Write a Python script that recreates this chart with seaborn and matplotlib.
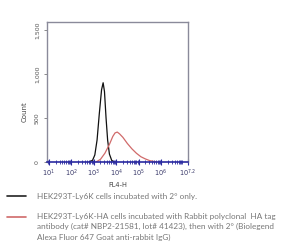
import matplotlib
matplotlib.use("Agg")
import matplotlib.pyplot as plt
import seaborn as sns
import pandas as pd
import numpy as np

sns.set_style("white")
plt.rcParams['font.family'] = ['DejaVu Sans']

# Values (x in log10 decades of FL4-H, y = count)
ctrl_x = [2.80, 2.95, 3.05, 3.15, 3.25, 3.35, 3.42, 3.48, 3.55, 3.62, 3.70, 3.80, 3.90]
ctrl_y = [0, 20, 80, 250, 550, 820, 900, 800, 500, 250, 90, 20, 0]
ha_x = [3.10, 3.30, 3.50, 3.70, 3.85, 3.95, 4.05, 4.15, 4.30, 4.50, 4.70, 4.90, 5.10, 5.30, 5.50, 5.80]
ha_y = [0, 30, 100, 200, 290, 330, 340, 320, 280, 210, 150, 100, 60, 35, 15, 0]

x_ticks = [1, 2, 3, 4, 5, 6, 7.2]
x_labels = ["$10^{1}$", "$10^{2}$", "$10^{3}$", "$10^{4}$", "$10^{5}$", "$10^{6}$", "$10^{7.2}$"]
y_ticks = [0, 500, 1000, 1500]
y_labels = ["0", "500", "1,000", "1,500"]

legend_line1 = "HEK293T-Ly6K cells incubated with 2\u00b0 only."
legend_lines2 = [
    "HEK293T-Ly6K-HA cells incubated with Rabbit polyclonal  HA tag",
    "antibody (cat# NBP2-21581, lot# 41423), then with 2\u00b0 (Biolegend",
    "Alexa Fluor 647 Goat anti-rabbit IgG)",
]

df = pd.concat([
    pd.DataFrame({"x": ctrl_x, "y": ctrl_y, "s": "ctrl"}),
    pd.DataFrame({"x": ha_x, "y": ha_y, "s": "ha"}),
])

fig = plt.figure(figsize=(2.81, 2.43), dpi=100)
ax = fig.add_axes([47/281, 1-162/243, (188-47)/281, (162-22)/243])
pal = {"ctrl": "#111111", "ha": "#d06a6a"}
sns.lineplot(data=df, x="x", y="y", hue="s", palette=pal, ax=ax, legend=False,
             linewidth=0.9, estimator=None, sort=False)

ax.set_xlim(0.92, 7.2)
ax.set_ylim(0, 1590)
ax.set_xticks(x_ticks)
ax.set_xticklabels(x_labels, fontsize=4.8, color="#3a3a6a")
minor = [np.log10(k) + d for d in range(0, 8) for k in range(2, 10)]
minor = [m for m in minor if 0.92 < m < 7.2]
ax.set_xticks(minor, minor=True)
ax.tick_params(axis="x", which="both", bottom=True)
ax.tick_params(axis="y", which="major", left=True)
ax.tick_params(axis="x", which="minor", length=2.5, width=0.6, color="#2a2aa0", direction="inout")
ax.tick_params(axis="x", which="major", length=4, width=0.8, color="#2a2aa0", direction="inout", pad=2)
ax.set_yticks(y_ticks)
ax.set_yticklabels(y_labels, fontsize=4.5, color="#555555", rotation=90, va="center")
ax.tick_params(axis="y", length=2, width=0.6, color="#777777", pad=3)
ax.set_xlabel("FL4-H", fontsize=4.8, color="#444444", labelpad=2)
ax.set_ylabel("Count", fontsize=5, color="#444444")
ax.yaxis.set_label_coords(-0.14, 0.36)
for side in ["left", "right", "top"]:
    ax.spines[side].set_color("#8a8a9a")
    ax.spines[side].set_linewidth(1.0)
ax.spines["bottom"].set_color("#2a2aa0")
ax.spines["bottom"].set_linewidth(1.2)

# legend below
fig.lines.append(plt.Line2D([7/281, 26/281], [1-196/243]*2, color="#222222", lw=1.2, transform=fig.transFigure))
fig.lines.append(plt.Line2D([7/281, 26/281], [1-217/243]*2, color="#d06a6a", lw=1.2, transform=fig.transFigure))
fig.text(37/281, 1-196/243, legend_line1, fontsize=5.9, color="#777777", va="center", ha="left",
         family="Lato")
for i, t in enumerate(legend_lines2):
    fig.text(37/281, 1-(216 + 10.5*i)/243, t, fontsize=5.9, color="#777777", va="center", ha="left",
             family="Lato")

fig.savefig("out.png", dpi=100)
